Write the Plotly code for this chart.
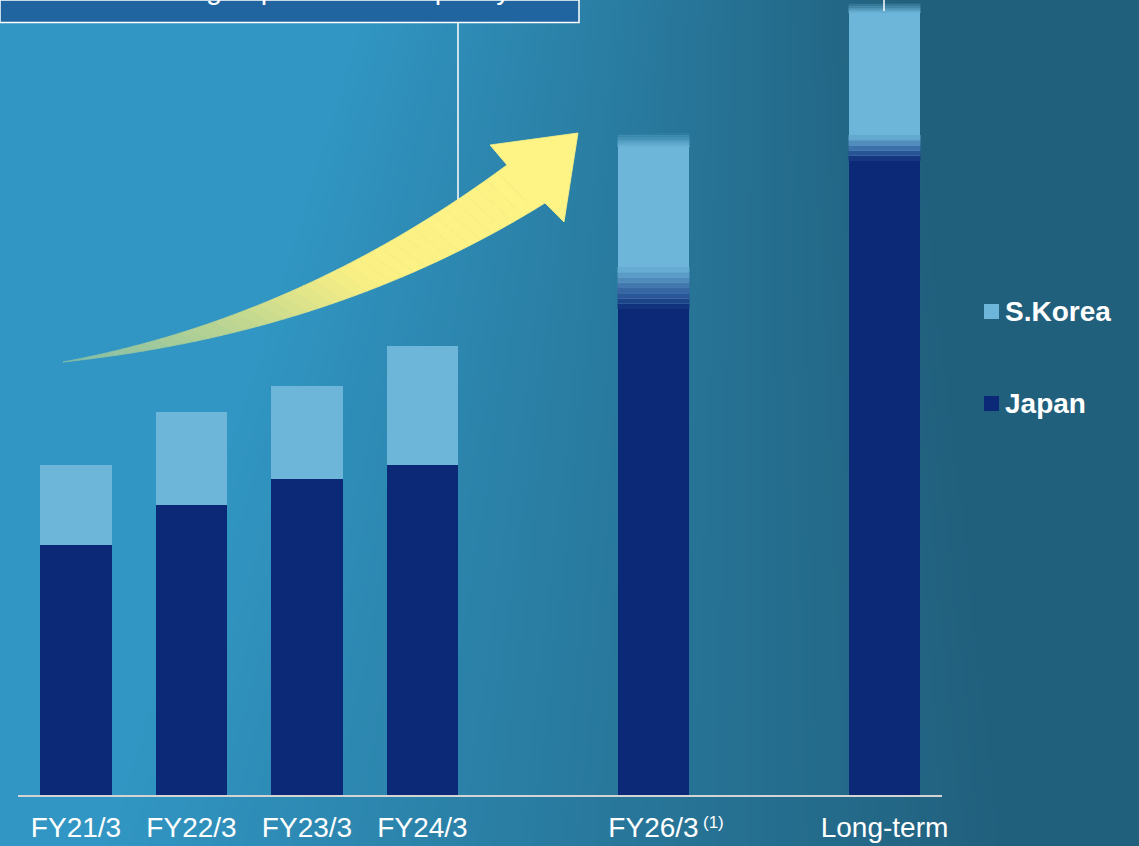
import base64
import struct
import zlib

import plotly.graph_objects as go

# ---------------- data ----------------
categories = ["FY21/3", "FY22/3", "FY23/3", "FY24/3", "FY26/3", "Long-term"]
axis_slots = ["FY21/3", "FY22/3", "FY23/3", "FY24/3", "gap-a", "FY26/3", "gap-b", "Long-term"]
japan = [250, 290, 316, 330, 486, 634]
s_korea = [80, 93, 93, 119, 176, 158]
blend_band = [0, 0, 0, 0, 42, 26]   # uncertain Japan/S.Korea split (same units)
top_fade = [0, 0, 0, 0, 14, 10]     # uncertain top of the bar (same units)
series_names = ["S.Korea", "Japan"]
box_text = "Investing in production capacity"
footnote_mark = "(1)"

# ---------------- style ----------------
W, H = 1139, 846
FONT = "Arial, 'Liberation Sans', sans-serif"
JP_COLOR = (11, 41, 119)
KR_COLOR = (109, 182, 217)
BAR_GAP = 0.377


def px(x):
    return x / W


def py(y):
    return 1 - y / H


def bg_rgb(x, y):
    c0 = (49, 150, 195)
    c1 = (33, 96, 125)
    s = 364 - 0.311 * y
    e = 907 + 0.117 * y
    t = (x - s) / (e - s)
    t = max(0.0, min(1.0, t))
    return tuple(int(round(a + (b - a) * t)) for a, b in zip(c0, c1))


def lerp(c0, c1, t):
    return tuple(int(round(a + (b - a) * t)) for a, b in zip(c0, c1))


def hexc(c):
    return "#%02x%02x%02x" % c


def make_png(w, h, fn):
    raw = bytearray()
    for j in range(h):
        raw.append(0)
        for i in range(w):
            raw.extend(fn(i, j))

    def chunk(tag, data):
        c = struct.pack(">I", len(data)) + tag + data
        return c + struct.pack(">I", zlib.crc32(tag + data) & 0xFFFFFFFF)

    png = b"\x89PNG\r\n\x1a\n"
    png += chunk(b"IHDR", struct.pack(">IIBBBBB", w, h, 8, 2, 0, 0, 0))
    png += chunk(b"IDAT", zlib.compress(bytes(raw), 9))
    png += chunk(b"IEND", b"")
    return "data:image/png;base64," + base64.b64encode(png).decode()


S = 5
bg_img = make_png(W // S + 1, H // S + 1, lambda i, j: bg_rgb(i * S, j * S))

# ---------------- figure ----------------
fig = go.Figure()
fig.add_trace(go.Bar(x=categories, y=japan, name="Japan", showlegend=False,
                     marker=dict(color=hexc(JP_COLOR), line=dict(width=0)),
                     hoverinfo="x+y+name"))
fig.add_trace(go.Bar(x=categories, y=s_korea, name="S.Korea", showlegend=False,
                     marker=dict(color=hexc(KR_COLOR), line=dict(width=0)),
                     hoverinfo="x+y+name"))

shapes = []
bar_w = 1 - BAR_GAP

# blended bands computed from the data values, drawn on the data axes
for cat, jp, kr, band, fade in zip(categories, japan, s_korea, blend_band, top_fade):
    idx = axis_slots.index(cat)
    x0, x1 = idx - bar_w / 2, idx + bar_w / 2
    if band > 0:
        n = max(2, round(band / 5))
        for k in range(n):
            ya = jp + band * k / n
            yb = jp + band * (k + 1) / n
            col = lerp(JP_COLOR, KR_COLOR, (k + 0.5) / n)
            shapes.append(dict(type="rect", xref="x", yref="y", x0=x0, x1=x1, y0=ya, y1=yb,
                               fillcolor=hexc(col), line=dict(width=0), layer="above"))
    if fade > 0:
        total = jp + kr
        n = 6
        xpix = 18.25 + (idx + 0.5) * 115.5
        bgc = bg_rgb(xpix, 795 - total)
        for k in range(n):
            ya = total - fade + fade * k / n
            yb = total - fade + fade * (k + 1) / n
            col = lerp(KR_COLOR, bgc, (k + 0.5) / n)
            shapes.append(dict(type="rect", xref="x", yref="y", x0=x0, x1=x1, y0=ya, y1=yb,
                               fillcolor=hexc(col), line=dict(width=0), layer="above"))

# title box (cut by the top edge) and connector lines
shapes.append(dict(type="rect", xref="paper", yref="paper", x0=px(0), x1=px(579),
                   y0=py(22.5), y1=py(0), fillcolor="#2165a0",
                   line=dict(color="white", width=1.5), layer="above"))
shapes.append(dict(type="line", xref="paper", yref="paper", x0=px(458), x1=px(458),
                   y0=py(23), y1=py(206), line=dict(color="white", width=1.5), layer="above"))
shapes.append(dict(type="line", xref="paper", yref="paper", x0=px(884), x1=px(884),
                   y0=py(0), y1=py(11), line=dict(color="white", width=1.5), layer="above"))


# curved growth arrow with a green-to-yellow gradient
def bez(p0, c, p2, t):
    return ((1 - t) ** 2 * p0[0] + 2 * (1 - t) * t * c[0] + t * t * p2[0],
            (1 - t) ** 2 * p0[1] + 2 * (1 - t) * t * c[1] + t * t * p2[1])


tail = (63, 362)
up_end, up_c = (507, 165), (300, 318)
lo_end, lo_c = (545, 203), (336, 333)
stops = [(0.0, (128, 188, 168)), (0.35, (190, 214, 145)), (0.62, (250, 240, 132)), (1.0, (254, 243, 133))]


def arrow_col(t):
    for (ta, ca), (tb, cb) in zip(stops[:-1], stops[1:]):
        if ta <= t <= tb:
            return lerp(ca, cb, (t - ta) / (tb - ta))
    return stops[-1][1]


N = 40
for k in range(N):
    ta, tb = k / N, (k + 1) / N
    pts = [bez(tail, up_c, up_end, ta), bez(tail, up_c, up_end, tb),
           bez(tail, lo_c, lo_end, tb), bez(tail, lo_c, lo_end, ta)]
    path = "M " + " L ".join(f"{px(x):.5f},{py(y):.5f}" for x, y in pts) + " Z"
    col = hexc(arrow_col((ta + tb) / 2))
    shapes.append(dict(type="path", xref="paper", yref="paper", path=path,
                       fillcolor=col, line=dict(color=col, width=0.8), layer="above"))

head = [(507, 165), (490, 145), (578, 133), (564, 222), (545, 203)]
path = "M " + " L ".join(f"{px(x):.5f},{py(y):.5f}" for x, y in head) + " Z"
shapes.append(dict(type="path", xref="paper", yref="paper", path=path,
                   fillcolor="#fef385", line=dict(color="#fef385", width=0.8), layer="above"))

# legend (S.Korea above Japan), drawn with square markers and bold labels
legend_colors = {"S.Korea": KR_COLOR, "Japan": JP_COLOR}
legend_rows_y = [311.5, 403.5]
annotations = []
for name, ly in zip(series_names, legend_rows_y):
    shapes.append(dict(type="rect", xref="paper", yref="paper",
                       x0=px(984), x1=px(999), y0=py(ly + 7.5), y1=py(ly - 7.5),
                       fillcolor=hexc(legend_colors[name]), line=dict(width=0), layer="above"))
    annotations.append(dict(text=f"<b>{name}</b>", xref="paper", yref="paper",
                            x=px(1003), y=py(ly), xanchor="left", yanchor="middle",
                            showarrow=False,
                            font=dict(family=FONT, size=28, color="white")))

annotations += [
    dict(text=box_text, xref="paper", yref="paper", x=px(104), y=py(-11),
         xanchor="left", yanchor="middle", showarrow=False,
         font=dict(family=FONT, size=29, color="white")),
    dict(text=footnote_mark, xref="x", yref="paper", x="FY26/3", xshift=59.5, y=py(822),
         xanchor="center", yanchor="middle", showarrow=False,
         font=dict(family=FONT, size=17, color="white")),
]

fig.update_layout(
    width=W, height=H, autosize=False,
    margin=dict(l=0, r=0, t=0, b=0, autoexpand=False),
    paper_bgcolor=hexc(bg_rgb(600, 400)),
    plot_bgcolor="rgba(0,0,0,0)",
    barmode="stack", bargap=BAR_GAP,
    showlegend=False,
    font=dict(family=FONT, color="white"),
    images=[dict(source=bg_img, xref="paper", yref="paper", x=0, y=1, sizex=1, sizey=1,
                 xanchor="left", yanchor="top", sizing="stretch", layer="below")],
    xaxis=dict(domain=[px(18.25), px(942.25)], type="category",
               categoryorder="array", categoryarray=axis_slots, range=[-0.5, 7.5],
               tickvals=categories, ticktext=categories,
               tickfont=dict(family=FONT, size=28, color="white"),
               ticklabelstandoff=6, automargin=False,
               showline=True, linecolor="#d4d4d4", linewidth=2,
               ticks="", showgrid=False, zeroline=False, fixedrange=True),
    yaxis=dict(domain=[py(795), 1], range=[0, 795], visible=False, fixedrange=True,
               automargin=False),
    shapes=shapes,
    annotations=annotations,
)

pin_script = (
    "var d=document.getElementsByClassName('plotly-graph-div')[0];"
    "d.style.position='fixed';d.style.left='0px';d.style.top='0px';"
)
fig.write_html("out.html", config={"displayModeBar": False}, post_script=pin_script)
